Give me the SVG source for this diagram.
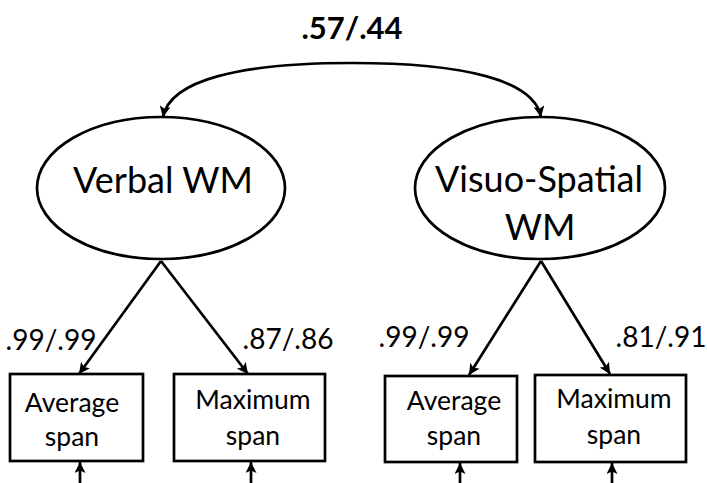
<svg xmlns="http://www.w3.org/2000/svg" width="707" height="483" viewBox="0 0 707 483">
<style>
text{font-family:Lato,"Open Sans","Liberation Sans",sans-serif;fill:#000;text-anchor:middle}
.lat{font-size:36px}
.obs{font-size:26.5px}
.lbl{font-size:28px}
.top{font-size:31px;font-weight:bold}
.shape{fill:#fff;stroke:#000;stroke-width:2.7}
.edge{fill:none;stroke:#000;stroke-width:2.7;marker-end:url(#ah)}
</style>
<defs>
<marker id="ah" markerUnits="userSpaceOnUse" markerWidth="12" markerHeight="11" refX="11" refY="5.5" orient="auto">
<path d="M0,0 L11,5.5 L0,11 L2.5,5.5 z" fill="#000"/>
</marker>
</defs>
<rect width="707" height="483" fill="#fff"/>
<g id="connectors">
<path class="edge" d="M352,63 C240,63 170,80 163,117"/>
<path class="edge" d="M352,63 C464,63 534,80 541,117"/>
<path class="edge" d="M161,261 L79,374"/>
<path class="edge" d="M161,261 L248,374"/>
<path class="edge" d="M541,261 L469,375"/>
<path class="edge" d="M541,261 L610,374"/>
<path class="edge" d="M80,483 L80,462"/>
<path class="edge" d="M251,483 L251,462"/>
<path class="edge" d="M460,483 L460,463"/>
<path class="edge" d="M612,483 L612,463"/>
</g>
<g id="label-corr"><text class="top" x="352" y="39">.57/.44</text></g>
<g id="verbal-wm">
<ellipse class="shape" cx="161" cy="188" rx="124" ry="71"/>
<text class="lat" x="163" y="193">Verbal WM</text>
</g>
<g id="visuo-spatial-wm">
<ellipse class="shape" cx="540" cy="188" rx="125" ry="71"/>
<text class="lat" x="539" y="192">Visuo-Spatial</text>
<text class="lat" x="540" y="240">WM</text>
</g>
<g id="loadings">
<text class="lbl" x="51" y="350">.99/.99</text>
<text class="lbl" x="288" y="349">.87/.86</text>
<text class="lbl" x="424" y="347">.99/.99</text>
<text class="lbl" x="661" y="347">.81/.91</text>
</g>
<g id="v-avg">
<rect class="shape" x="10" y="374" width="133" height="87"/>
<text class="obs" x="72" y="412">Average</text>
<text class="obs" x="72" y="446">span</text>
</g>
<g id="v-max">
<rect class="shape" x="174" y="374" width="151" height="87"/>
<text class="obs" x="253" y="409">Maximum</text>
<text class="obs" x="253" y="445">span</text>
</g>
<g id="vs-avg">
<rect class="shape" x="385" y="376" width="132" height="86"/>
<text class="obs" x="454" y="410">Average</text>
<text class="obs" x="454" y="445">span</text>
</g>
<g id="vs-max">
<rect class="shape" x="535" y="375" width="151" height="87"/>
<text class="obs" x="614" y="408">Maximum</text>
<text class="obs" x="614" y="444">span</text>
</g>
</svg>
